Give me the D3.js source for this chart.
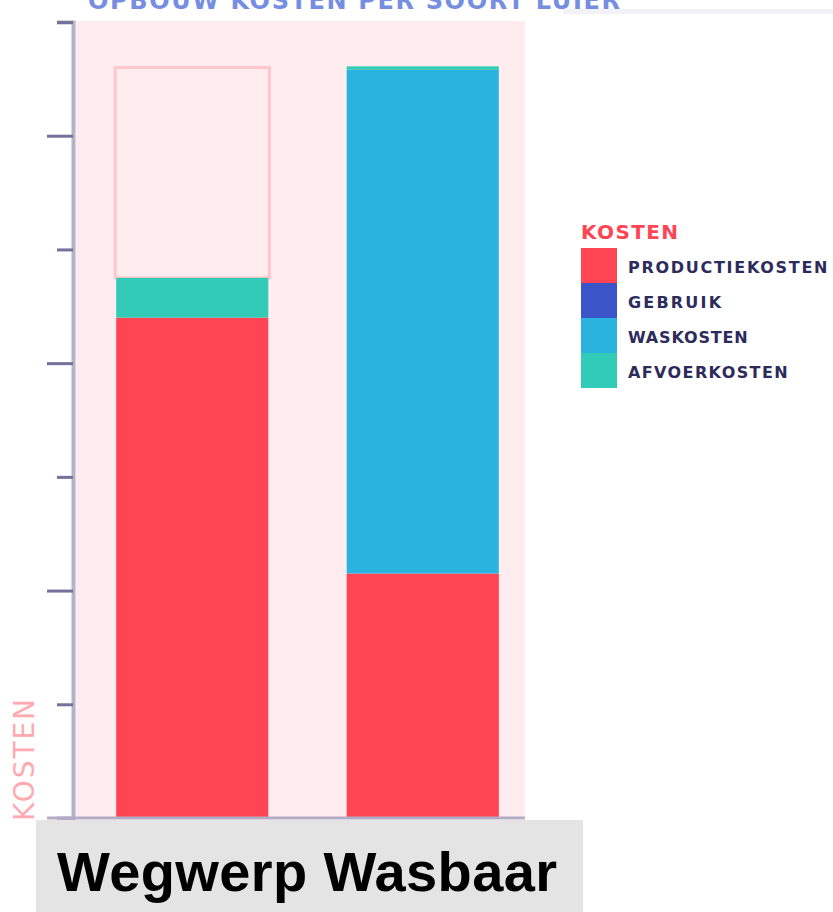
<!DOCTYPE html>
<html>
<head>
<meta charset="utf-8">
<script src="https://cdn.jsdelivr.net/npm/d3@7"></script>
<style>
  body { margin: 0; background: #fff; }
  svg { display: block; }
</style>
</head>
<body>
<div id="chart"></div>
<script>
// categories and stacked cost values (axis units 0..7)
const categories = ["Wegwerp", "Wasbaar"];
const seriesNames = ["PRODUCTIEKOSTEN", "GEBRUIK", "WASKOSTEN", "AFVOERKOSTEN"];
const productie = [4.40, 2.15];
const gebruik = [0, 0];
const waskosten = [0, 4.43];
const afvoer = [0.35, 0.03];
// outlined "ghost" total drawn above the Wegwerp bar
const ghostTotal = [6.60, null];
const yTicks = [0, 1, 2, 3, 4, 5, 6, 7];
const colors = ["#ff4553", "#3b55c9", "#2bb3e0", "#32cbb7"];

const width = 833, height = 912;

const svg = d3.select("#chart")
    .append("svg")
    .attr("width", width)
    .attr("height", height);

// title, cut off by the top edge like in the original screenshot
svg.append("text")
    .attr("x", 88)
    .attr("y", 9)
    .attr("textLength", 532)
    .style("font-family", "'DejaVu Sans', sans-serif")
    .style("font-weight", "bold")
    .style("font-size", "24px")
    .attr("fill", "#5572dc")
    .attr("opacity", 0.8)
    .text("OPBOUW KOSTEN PER SOORT LUIER");

svg.append("rect")
    .attr("x", 563).attr("y", 9)
    .attr("width", 270).attr("height", 5)
    .attr("fill", "#f2f2f8");

const x = d3.scaleBand()
    .domain(categories)
    .range([77, 538])
    .paddingInner(0.34)
    .paddingOuter(0.17);

const y = d3.scaleLinear()
    .domain([0, 7])
    .range([818, 22]);

// plot background
svg.append("rect")
    .attr("x", 76).attr("y", y(7) - 1)
    .attr("width", 449).attr("height", y(0) - y(7) + 1)
    .attr("fill", "#ffecee");

// stacked data
const table = categories.map((c, i) => ({
    cat: c,
    PRODUCTIEKOSTEN: productie[i],
    GEBRUIK: gebruik[i],
    WASKOSTEN: waskosten[i],
    AFVOERKOSTEN: afvoer[i]
}));
const stack = d3.stack().keys(seriesNames)(table);

// ghost outline bar
categories.forEach((c, i) => {
    if (ghostTotal[i] == null) return;
    const top = stack[stack.length - 1][i][1];
    svg.append("rect")
        .attr("x", x(c) - 1)
        .attr("y", y(ghostTotal[i]))
        .attr("width", x.bandwidth() + 2)
        .attr("height", y(top) - y(ghostTotal[i]))
        .attr("fill", "none")
        .attr("stroke", "#ffc6cb")
        .attr("stroke-width", 3);
});

svg.append("g")
    .selectAll("g")
    .data(stack)
    .join("g")
    .attr("fill", (d, i) => colors[i])
    .selectAll("rect")
    .data(d => d)
    .join("rect")
    .attr("x", d => x(d.data.cat))
    .attr("y", d => y(d[1]))
    .attr("width", x.bandwidth())
    .attr("height", d => y(d[0]) - y(d[1]));

// y axis with alternating tick lengths
const yAxis = svg.append("g")
    .attr("transform", "translate(73,0)")
    .call(d3.axisLeft(y).tickValues(yTicks).tickFormat("").tickSizeOuter(0).tickSize(16));
yAxis.select(".domain")
    .attr("stroke", "#b6b0ca")
    .attr("stroke-width", 4);
yAxis.selectAll(".tick line")
    .attr("stroke", "#75719a")
    .attr("stroke-width", 3)
    .attr("x2", d => (d % 2 === 0 ? -26 : -16));
yAxis.selectAll(".tick").filter(d => d === 0).remove();

// x axis line
svg.append("line")
    .attr("x1", 47).attr("x2", 525)
    .attr("y1", y(0)).attr("y2", y(0))
    .attr("stroke", "#b3acc6")
    .attr("stroke-width", 3);

// y axis title
svg.append("text")
    .attr("transform", "translate(34," + 760 + ") rotate(-90)")
    .attr("text-anchor", "middle")
    .style("font-family", "'DejaVu Sans', sans-serif")
    .style("font-size", "28px")
    .attr("textLength", 122)
    .attr("fill", "#ffa9b0")
    .text("KOSTEN");

// legend
const legend = svg.append("g").attr("transform", "translate(581,0)");
legend.append("text")
    .attr("x", 0).attr("y", 239)
    .attr("textLength", 97)
    .style("font-family", "'DejaVu Sans', sans-serif")
    .style("font-weight", "bold")
    .style("font-size", "20px")
    .attr("fill", "#ff4553")
    .text("KOSTEN");
seriesNames.forEach((name, i) => {
    legend.append("rect")
        .attr("x", 0).attr("y", 248 + i * 35)
        .attr("width", 36).attr("height", 35)
        .attr("fill", colors[i]);
});
legend.selectAll(".lab")
    .data(seriesNames)
    .join("text")
    .attr("class", "lab")
    .attr("x", 47)
    .attr("y", (d, i) => 273 + i * 35)
    .attr("textLength", d => d.length * 13.3)
    .style("font-family", "'DejaVu Sans', sans-serif")
    .style("font-weight", "bold")
    .style("font-size", "16px")
    .attr("fill", "#2c2b5c")
    .text(d => d);

// category label box
svg.append("rect")
    .attr("x", 36).attr("y", 820)
    .attr("width", 547).attr("height", 92)
    .attr("fill", "#e4e4e4");
svg.append("text")
    .attr("x", 57).attr("y", 891)
    .attr("textLength", 500)
    .style("font-family", "'Liberation Sans', Arial, sans-serif")
    .style("font-weight", "bold")
    .style("font-size", "56px")
    .attr("fill", "#000")
    .text(categories.join(" "));
</script>
</body>
</html>
